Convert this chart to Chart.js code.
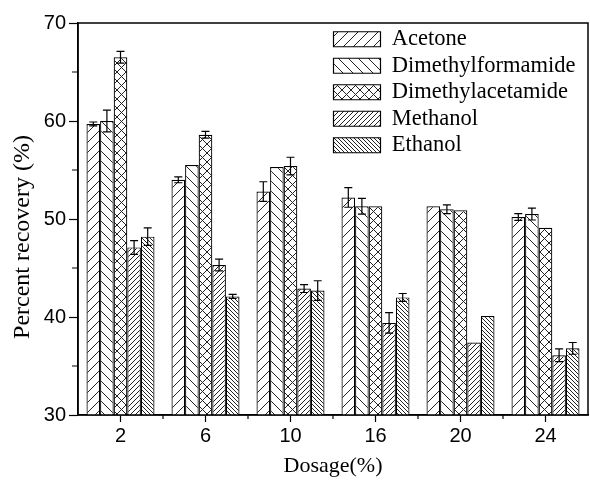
<!DOCTYPE html>
<html lang="en">

<head>
    <meta charset="UTF-8">
    <meta name="viewport" content="width=device-width, initial-scale=1.0">
    <title>Percent recovery</title>
    <script src="https://cdn.jsdelivr.net/npm/chart.js"></script>
    <style>
        html, body {
            margin: 0;
            padding: 0;
            background: #fff;
        }

        .graph {
            width: 590px;
            height: 480px;
        }
    </style>
</head>

<body>
    <div class="graph">
        <canvas id="myChartCanvas"></canvas>
    </div>
</body>

</html>

<script>
    // valores
    const dosagens = ['2', '6', '10', '16', '20', '24'];

    const acetone = [59.7, 54.0, 52.8, 52.2, 51.3, 50.2];
    const acetoneErro = [0.2, 0.3, 1.0, 1.0, 0, 0.35];

    const dmf = [60.0, 55.5, 55.3, 51.3, 51.0, 50.5];
    const dmfErro = [1.1, 0, 0, 0.8, 0.45, 0.6];

    const dmac = [66.5, 58.6, 55.4, 51.3, 50.9, 49.1];
    const dmacErro = [0.6, 0.35, 0.9, 0, 0, 0];

    const metanol = [47.1, 45.3, 42.9, 39.4, 37.4, 36.1];
    const metanolErro = [0.7, 0.6, 0.4, 1.05, 0, 0.65];

    const etanol = [48.2, 42.1, 42.7, 42.0, 40.1, 36.8];
    const etanolErro = [0.9, 0.2, 1.0, 0.4, 0, 0.6];

    const ticksY = [30, 40, 50, 60, 70];

    // hachuras
    function hachura(tam, tipo) {
        const c = document.createElement('canvas');
        c.width = tam;
        c.height = tam;
        const g = c.getContext('2d');
        g.fillStyle = '#fff';
        g.fillRect(0, 0, tam, tam);
        g.strokeStyle = '#222';
        g.lineWidth = 1;
        g.beginPath();
        if (tipo == '/' || tipo == 'x') {
            g.moveTo(-1, tam + 1); g.lineTo(tam + 1, -1);
            g.moveTo(-2, 2); g.lineTo(2, -2);
            g.moveTo(tam - 2, tam + 2); g.lineTo(tam + 2, tam - 2);
        }
        if (tipo == '\\' || tipo == 'x') {
            g.moveTo(-1, -1); g.lineTo(tam + 1, tam + 1);
            g.moveTo(tam - 2, -2); g.lineTo(tam + 2, 2);
            g.moveTo(-2, tam - 2); g.lineTo(2, tam + 2);
        }
        g.stroke();
        return g.createPattern(c, 'repeat');
    }

    function serie(nome, valores, erros, padrao) {
        return {
            label: nome,
            data: valores,
            erros: erros,
            backgroundColor: padrao,
            borderColor: '#000',
            borderWidth: 1.2,
            categoryPercentage: 0.8,
            barPercentage: 1.0
        };
    }

    // barras de erro
    const barrasErro = {
        id: 'barrasErro',
        afterDatasetsDraw(chart) {
            const ctx = chart.ctx;
            const y = chart.scales.y;
            ctx.save();
            ctx.strokeStyle = '#000';
            ctx.lineWidth = 1.2;
            chart.data.datasets.forEach((ds, i) => {
                const meta = chart.getDatasetMeta(i);
                meta.data.forEach((barra, j) => {
                    const e = ds.erros[j];
                    if (!e) return;
                    const yTopo = y.getPixelForValue(ds.data[j] + e);
                    const yBase = y.getPixelForValue(ds.data[j] - e);
                    ctx.beginPath();
                    ctx.moveTo(barra.x, yTopo);
                    ctx.lineTo(barra.x, yBase);
                    ctx.moveTo(barra.x - 4, yTopo);
                    ctx.lineTo(barra.x + 4, yTopo);
                    ctx.moveTo(barra.x - 4, yBase);
                    ctx.lineTo(barra.x + 4, yBase);
                    ctx.stroke();
                });
            });
            ctx.restore();
        }
    };

    // moldura e ticks menores
    const moldura = {
        id: 'moldura',
        afterDraw(chart) {
            const ctx = chart.ctx;
            const a = chart.chartArea;
            const x = chart.scales.x;
            const y = chart.scales.y;
            ctx.save();
            ctx.strokeStyle = '#000';
            ctx.lineWidth = 1.5;
            ctx.strokeRect(a.left, a.top, a.right - a.left, a.bottom - a.top);
            ctx.lineWidth = 1.2;
            ctx.beginPath();
            for (let i = 0; i < ticksY.length - 1; i++) {
                const py = y.getPixelForValue((ticksY[i] + ticksY[i + 1]) / 2);
                ctx.moveTo(a.left - 6, py);
                ctx.lineTo(a.left, py);
            }
            for (let i = 0; i < dosagens.length - 1; i++) {
                const px = (x.getPixelForValue(i) + x.getPixelForValue(i + 1)) / 2;
                ctx.moveTo(px, a.bottom);
                ctx.lineTo(px, a.bottom + 4);
            }
            ctx.stroke();
            ctx.restore();
        }
    };

    // legenda dentro da area do grafico
    const posLegenda = {
        id: 'posLegenda',
        afterLayout(chart) {
            const leg = chart.legend;
            const w = leg.width;
            const h = leg.height;
            leg.left = 329.5;
            leg.top = 24;
            leg.right = leg.left + w;
            leg.bottom = leg.top + h;
        }
    };

    const dados = {
        labels: dosagens,
        datasets: [
            serie('Acetone', acetone, acetoneErro, hachura(10, '/')),
            serie('Dimethylformamide', dmf, dmfErro, hachura(10, '\\')),
            serie('Dimethylacetamide', dmac, dmacErro, hachura(9, 'x')),
            serie('Methanol', metanol, metanolErro, hachura(5, '/')),
            serie('Ethanol', etanol, etanolErro, hachura(4, '\\'))
        ]
    };

    const config = {
        type: 'bar',
        data: dados,
        plugins: [barrasErro, moldura, posLegenda],
        options: {
            responsive: true,
            maintainAspectRatio: false,
            animation: false,
            devicePixelRatio: 1,
            layout: {
                padding: { top: 23, right: 2, left: 0, bottom: 0 }
            },
            plugins: {
                tooltip: { enabled: false },
                legend: {
                    position: 'chartArea',
                    align: 'start',
                    labels: {
                        boxWidth: 47,
                        boxHeight: 15,
                        padding: 4,
                        color: '#000',
                        font: { family: 'Liberation Serif', size: 22.5 }
                    }
                }
            },
            scales: {
                x: {
                    offset: true,
                    afterFit(scale) { scale.height = 65; },
                    grid: {
                        offset: false,
                        drawOnChartArea: false,
                        tickLength: 7,
                        tickWidth: 1.2,
                        tickColor: '#000'
                    },
                    border: { color: '#000', width: 1.5 },
                    ticks: {
                        color: '#000',
                        padding: 2,
                        maxRotation: 0,
                        font: { family: 'Liberation Sans', size: 20 }
                    },
                    title: {
                        display: true,
                        text: 'Dosage(%)',
                        color: '#000',
                        padding: { top: 0, bottom: 1 },
                        font: { family: 'Liberation Serif', size: 22 }
                    }
                },
                y: {
                    min: 30,
                    max: 70,
                    afterFit(scale) { scale.width = 78; },
                    afterBuildTicks(scale) {
                        scale.ticks = ticksY.map(v => ({ value: v }));
                    },
                    grid: {
                        drawOnChartArea: false,
                        tickLength: 9,
                        tickWidth: 1.2,
                        tickColor: '#000'
                    },
                    border: { color: '#000', width: 1.5 },
                    ticks: {
                        color: '#000',
                        padding: 3,
                        font: { family: 'Liberation Sans', size: 20 }
                    },
                    title: {
                        display: true,
                        // espacos no fim descem o texto um pouco, como no original
                        text: 'Percent recovery (%)      ',
                        color: '#000',
                        padding: { top: 8, bottom: 0 },
                        font: { family: 'Liberation Serif', size: 24 }
                    }
                }
            }
        }
    };

    let myChart = new Chart(
        document.getElementById('myChartCanvas'),
        config
    );
</script>
